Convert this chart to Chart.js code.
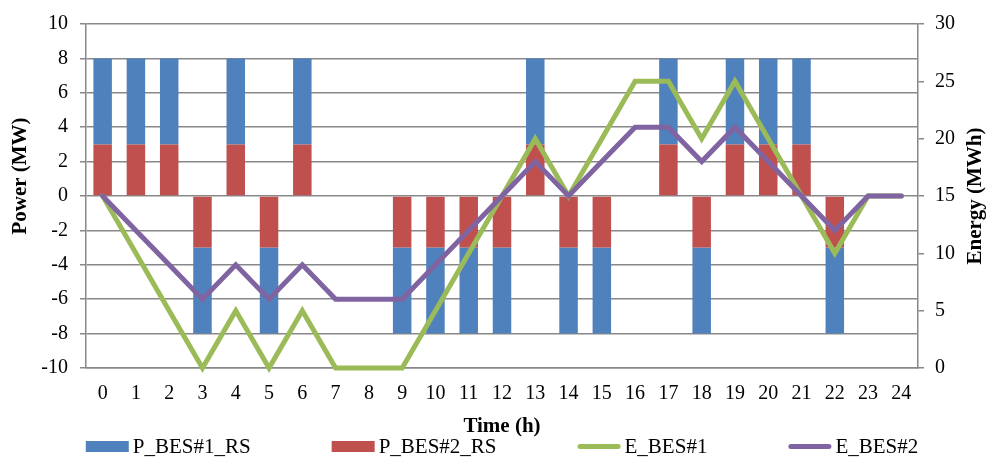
<!DOCTYPE html>
<html>
<head>
<meta charset="utf-8">
<script src="https://cdn.jsdelivr.net/npm/chart.js@4.4.1/dist/chart.umd.min.js"></script>
<style>
  html, body { margin: 0; padding: 0; background: #ffffff; }
  #wrap { width: 987px; height: 459px; }
</style>
</head>
<body>
<div id="wrap"><canvas id="chart" width="987" height="459"></canvas></div>
<script>
// Hourly schedule of the two battery energy storage units
const hours = ['0','1','2','3','4','5','6','7','8','9','10','11','12','13','14','15','16','17','18','19','20','21','22','23','24'];

// Reserve power of each unit (MW), positive = discharging
const pBes1 = [5, 5, 5, -5, 5, -5, 5, 0, 0, -5, -5, -5, -5, 5, -5, -5, 0, 5, -5, 5, 5, 5, -5, 0, 0];
const pBes2 = [3, 3, 3, -3, 3, -3, 3, 0, 0, -3, -3, -3, -3, 3, -3, -3, 0, 3, -3, 3, 3, 3, -3, 0, 0];

// Stored energy of each unit (MWh)
const eBes1 = [15, 10, 5, 0, 5, 0, 5, 0, 0, 0, 5, 10, 15, 20, 15, 20, 25, 25, 20, 25, 20, 15, 10, 15, 15];
const eBes2 = [15, 12, 9, 6, 9, 6, 9, 6, 6, 6, 9, 12, 15, 18, 15, 18, 21, 21, 18, 21, 18, 15, 12, 15, 15];

const seriesNames = ['P_BES#1_RS', 'P_BES#2_RS', 'E_BES#1', 'E_BES#2'];
const axisTitles = { x: 'Time (h)', left: 'Power (MW)', right: 'Energy (MWh)' };

const FONT = '"Liberation Serif", "Times New Roman", serif';
const GRID = '#888888';
const BLUE = '#4F81BD', RED = '#C0504D', GREEN = '#9BBB59', PURPLE = '#8064A2';

// Vertical axis titles (both reading bottom to top) and the legend along the bottom
const extras = {
  id: 'extras',
  afterDraw(chart) {
    const ctx = chart.ctx;
    const area = chart.chartArea;
    const y = chart.scales.y;
    const y1 = chart.scales.y1;

    const vTitle = (text, cx, cy) => {
      ctx.save();
      ctx.fillStyle = '#000';
      ctx.font = 'bold 21px ' + FONT;
      ctx.textAlign = 'center';
      ctx.textBaseline = 'middle';
      ctx.translate(cx, cy);
      ctx.rotate(-Math.PI / 2);
      ctx.fillText(text, 0, 0);
      ctx.restore();
    };
    vTitle(axisTitles.left, y.left + 21, area.top + 152);
    vTitle(axisTitles.right, y1.right - 11, (area.top + area.bottom) / 2);

    ctx.save();
    ctx.font = '21px ' + FONT;
    const symW = 43, symGap = 4, itemGap = 81, cy = 446.5;
    const items = chart.data.datasets.map(ds => ({
      ds, w: symW + symGap + ctx.measureText(ds.label).width
    }));
    const total = items.reduce((s, it) => s + it.w, 0) + itemGap * (items.length - 1);
    let x = (area.left + area.right) / 2 - total / 2;
    items.forEach(it => {
      const ds = it.ds;
      if (ds.type === 'line') {
        ctx.strokeStyle = ds.borderColor;
        ctx.lineWidth = 5;
        ctx.lineCap = 'round';
        ctx.beginPath();
        ctx.moveTo(x + 2.5, cy);
        ctx.lineTo(x + symW - 2.5, cy);
        ctx.stroke();
      } else {
        ctx.fillStyle = ds.backgroundColor;
        ctx.fillRect(x, cy - 5.5, symW, 11);
      }
      ctx.fillStyle = '#000';
      ctx.textAlign = 'left';
      ctx.textBaseline = 'middle';
      ctx.fillText(ds.label, x + symW + symGap, cy + 1);
      x += it.w + itemGap;
    });
    ctx.restore();
  }
};

const tickFont = { family: FONT, size: 20 };
const titleFont = { family: FONT, size: 21, weight: 'bold' };

new Chart(document.getElementById('chart'), {
  data: {
    labels: hours,
    datasets: [
      { type: 'bar', label: seriesNames[0], data: pBes1, backgroundColor: BLUE, borderWidth: 0,
        yAxisID: 'y', order: 3, barPercentage: 0.556, categoryPercentage: 1 },
      { type: 'bar', label: seriesNames[1], data: pBes2, backgroundColor: RED, borderWidth: 0,
        yAxisID: 'y', order: 2, barPercentage: 0.556, categoryPercentage: 1 },
      { type: 'line', label: seriesNames[2], data: eBes1, borderColor: GREEN, backgroundColor: GREEN,
        borderWidth: 5, pointRadius: 0, tension: 0, fill: false, yAxisID: 'y1', order: 1,
        borderCapStyle: 'round', borderJoinStyle: 'miter', clip: false },
      { type: 'line', label: seriesNames[3], data: eBes2, borderColor: PURPLE, backgroundColor: PURPLE,
        borderWidth: 5, pointRadius: 0, tension: 0, fill: false, yAxisID: 'y1', order: 0,
        borderCapStyle: 'round', borderJoinStyle: 'miter', clip: false }
    ]
  },
  options: {
    responsive: false,
    animation: false,
    events: [],
    layout: { padding: { top: 20, bottom: 20, left: 0, right: 0 } },
    plugins: { legend: { display: false }, tooltip: { enabled: false } },
    scales: {
      x: {
        stacked: true,
        offset: true,
        grid: { display: false, drawTicks: false },
        border: { display: true, color: GRID, width: 1.5 },
        ticks: { color: '#000', font: tickFont, padding: 14, maxRotation: 0, autoSkip: false },
        title: { display: true, text: axisTitles.x, color: '#000', font: titleFont, padding: { top: 8, bottom: 0 } },
        afterFit(scale) { scale.height = 71; }
      },
      y: {
        position: 'left',
        stacked: true,
        min: -10, max: 10,
        ticks: { stepSize: 2, color: '#000', font: tickFont, padding: 12 },
        grid: { color: GRID, lineWidth: 1.5, tickLength: 6 },
        border: { color: GRID, width: 1.5 },
        afterFit(scale) { scale.width = 86; }
      },
      y1: {
        position: 'right',
        min: 0, max: 30,
        ticks: { stepSize: 5, color: '#000', font: tickFont, padding: 11 },
        grid: { drawOnChartArea: false, color: GRID, lineWidth: 1.5, tickLength: 6 },
        border: { color: GRID, width: 1.5 },
        afterFit(scale) { scale.width = 69; }
      }
    }
  },
  plugins: [extras]
});
</script>
</body>
</html>
